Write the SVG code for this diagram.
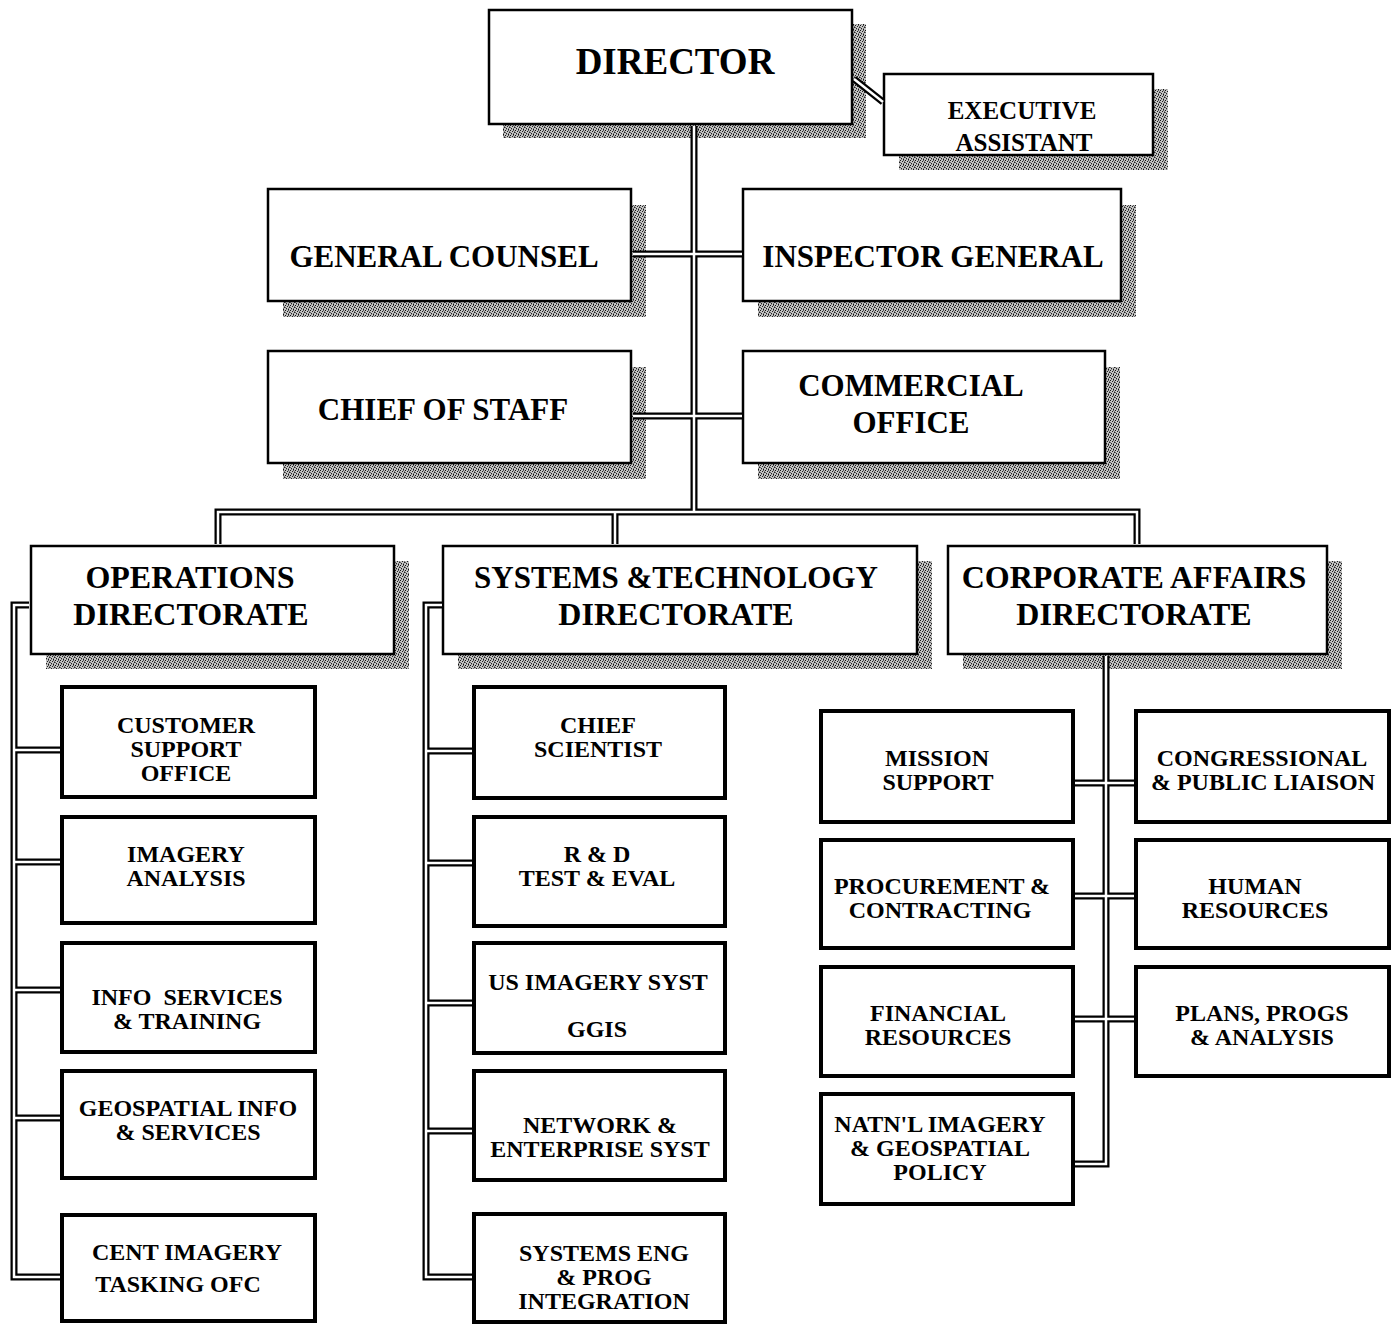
<svg xmlns="http://www.w3.org/2000/svg" width="1397" height="1326" viewBox="0 0 1397 1326">
<style>
.sh{fill:url(#stip)}
.big{fill:#fff;stroke:#000;stroke-width:2.5}
.sm{fill:#fff;stroke:#000;stroke-width:4}
text{font-family:"Liberation Serif","Times New Roman",serif;font-weight:bold;fill:#000;text-anchor:middle}
.t36{font-size:37px}
.t31{font-size:31px}
.t32{font-size:32px}
.t25{font-size:25px}
.t24{font-size:24px}
.co{fill:none;stroke:#000;stroke-width:7;stroke-linejoin:miter}
.ci{fill:none;stroke:#fff;stroke-width:2.5;stroke-linejoin:miter}
</style>
<defs>
<pattern id="stip" width="5" height="5" patternUnits="userSpaceOnUse">
<rect width="5" height="5" fill="#c4c4c4"/>
<rect x="0" y="0" width="1" height="1" fill="#111"/>
<rect x="3" y="0" width="1" height="1" fill="#555"/>
<rect x="2" y="1" width="1" height="1" fill="#222"/>
<rect x="4" y="1" width="1" height="1" fill="#777"/>
<rect x="0" y="2" width="1" height="1" fill="#666"/>
<rect x="4" y="2" width="1" height="1" fill="#222"/>
<rect x="1" y="3" width="1" height="1" fill="#222"/>
<rect x="3" y="3" width="1" height="1" fill="#777"/>
<rect x="3" y="4" width="1" height="1" fill="#111"/>
<rect x="1" y="4" width="1" height="1" fill="#888"/>
</pattern>
<path id="c-main" d="M694,126 V512"/>
<path id="c-bus" d="M218,544 V512 H1137 V544 M615,512 V544"/>
<path id="c-exec" d="M854,79 L883,102"/>
<path id="c-gc" d="M633,254 H742"/>
<path id="c-cos" d="M633,416 H742"/>
<path id="c-ops" d="M29,605 H14 V1277 H60 M14,750 H60 M14,862 H60 M14,990 H60 M14,1118 H60"/>
<path id="c-st" d="M442,605 H426 V1277 H472 M426,751 H472 M426,863 H472 M426,1003 H472 M426,1131 H472"/>
<path id="c-corp" d="M1106,656 V1164 H1075 M1075,783 H1134 M1075,896 H1134 M1075,1019 H1134"/>
</defs>
<rect width="1397" height="1326" fill="#fff"/>

<g id="director">
<rect class="sh" x="503" y="24" width="363" height="114"/>
<rect class="big" x="489" y="10" width="363" height="114"/>
<text class="t36" x="675" y="74">DIRECTOR</text>
</g>
<g id="executive-assistant">
<rect class="sh" x="899" y="89" width="269" height="81"/>
<rect class="big" x="884" y="74" width="269" height="81"/>
<text class="t25" x="1022" y="119">EXECUTIVE</text>
<text class="t25" x="1024" y="151">ASSISTANT</text>
</g>
<g id="general-counsel">
<rect class="sh" x="283" y="205" width="363" height="112"/>
<rect class="big" x="268" y="189" width="363" height="112"/>
<text class="t31" x="444" y="267">GENERAL COUNSEL</text>
</g>
<g id="inspector-general">
<rect class="sh" x="758" y="205" width="378" height="112"/>
<rect class="big" x="743" y="189" width="378" height="112"/>
<text class="t31" x="933" y="267">INSPECTOR GENERAL</text>
</g>
<g id="chief-of-staff">
<rect class="sh" x="283" y="367" width="363" height="112"/>
<rect class="big" x="268" y="351" width="363" height="112"/>
<text class="t31" x="443" y="420">CHIEF OF STAFF</text>
</g>
<g id="commercial-office">
<rect class="sh" x="758" y="367" width="362" height="112"/>
<rect class="big" x="743" y="351" width="362" height="112"/>
<text class="t31" x="911" y="396">COMMERCIAL</text>
<text class="t31" x="911" y="433">OFFICE</text>
</g>
<g id="operations-directorate">
<rect class="sh" x="46" y="561" width="363" height="108"/>
<rect class="big" x="31" y="546" width="363" height="108"/>
<text class="t32" x="190" y="588">OPERATIONS</text>
<text class="t32" x="191" y="625">DIRECTORATE</text>
</g>
<g id="systems-technology-directorate">
<rect class="sh" x="458" y="561" width="474" height="108"/>
<rect class="big" x="443" y="546" width="474" height="108"/>
<text class="t31" x="676" y="588">SYSTEMS &amp;TECHNOLOGY</text>
<text class="t32" x="676" y="625">DIRECTORATE</text>
</g>
<g id="corporate-affairs-directorate">
<rect class="sh" x="963" y="561" width="379" height="108"/>
<rect class="big" x="948" y="546" width="379" height="108"/>
<text class="t32" x="1134" y="588">CORPORATE AFFAIRS</text>
<text class="t32" x="1134" y="625">DIRECTORATE</text>
</g>

<g id="customer-support-office">
<rect class="sm" x="62" y="687" width="253" height="110"/>
<text class="t24" x="186" y="733">CUSTOMER</text>
<text class="t24" x="186" y="757">SUPPORT</text>
<text class="t24" x="186" y="781">OFFICE</text>
</g>
<g id="imagery-analysis">
<rect class="sm" x="62" y="817" width="253" height="106"/>
<text class="t24" x="186" y="862">IMAGERY</text>
<text class="t24" x="186" y="886">ANALYSIS</text>
</g>
<g id="info-services-training">
<rect class="sm" x="62" y="943" width="253" height="109"/>
<text class="t24" x="187" y="1005" xml:space="preserve">INFO  SERVICES</text>
<text class="t24" x="187" y="1029">&amp; TRAINING</text>
</g>
<g id="geospatial-info-services">
<rect class="sm" x="62" y="1071" width="253" height="107"/>
<text class="t24" x="188" y="1116">GEOSPATIAL INFO</text>
<text class="t24" x="188" y="1140">&amp; SERVICES</text>
</g>
<g id="cent-imagery-tasking-ofc">
<rect class="sm" x="62" y="1215" width="253" height="106"/>
<text class="t24" x="187" y="1260">CENT IMAGERY</text>
<text class="t24" x="178" y="1292">TASKING OFC</text>
</g>

<g id="chief-scientist">
<rect class="sm" x="474" y="687" width="251" height="111"/>
<text class="t24" x="598" y="733">CHIEF</text>
<text class="t24" x="598" y="757">SCIENTIST</text>
</g>
<g id="rd-test-eval">
<rect class="sm" x="474" y="817" width="251" height="109"/>
<text class="t24" x="597" y="862">R &amp; D</text>
<text class="t24" x="597" y="886">TEST &amp; EVAL</text>
</g>
<g id="us-imagery-syst-ggis">
<rect class="sm" x="474" y="943" width="251" height="110"/>
<text class="t24" x="598" y="990">US IMAGERY SYST</text>
<text class="t24" x="597" y="1037">GGIS</text>
</g>
<g id="network-enterprise-syst">
<rect class="sm" x="474" y="1071" width="251" height="109"/>
<text class="t24" x="600" y="1133">NETWORK &amp;</text>
<text class="t24" x="600" y="1157">ENTERPRISE SYST</text>
</g>
<g id="systems-eng-prog-integration">
<rect class="sm" x="474" y="1214" width="251" height="108"/>
<text class="t24" x="604" y="1261">SYSTEMS ENG</text>
<text class="t24" x="604" y="1285">&amp; PROG</text>
<text class="t24" x="604" y="1309">INTEGRATION</text>
</g>

<g id="mission-support">
<rect class="sm" x="821" y="711" width="252" height="111"/>
<text class="t24" x="937" y="766">MISSION</text>
<text class="t24" x="938" y="790">SUPPORT</text>
</g>
<g id="procurement-contracting">
<rect class="sm" x="821" y="840" width="252" height="108"/>
<text class="t24" x="942" y="894">PROCUREMENT &amp;</text>
<text class="t24" x="940" y="918">CONTRACTING</text>
</g>
<g id="financial-resources">
<rect class="sm" x="821" y="967" width="252" height="109"/>
<text class="t24" x="938" y="1021">FINANCIAL</text>
<text class="t24" x="938" y="1045">RESOURCES</text>
</g>
<g id="natnl-imagery-geospatial-policy">
<rect class="sm" x="821" y="1094" width="252" height="110"/>
<text class="t24" x="940" y="1132">NATN'L IMAGERY</text>
<text class="t24" x="940" y="1156">&amp; GEOSPATIAL</text>
<text class="t24" x="940" y="1180">POLICY</text>
</g>
<g id="congressional-public-liaison">
<rect class="sm" x="1136" y="711" width="253" height="111"/>
<text class="t24" x="1262" y="766">CONGRESSIONAL</text>
<text class="t24" x="1263" y="790">&amp; PUBLIC LIAISON</text>
</g>
<g id="human-resources">
<rect class="sm" x="1136" y="840" width="253" height="108"/>
<text class="t24" x="1255" y="894">HUMAN</text>
<text class="t24" x="1255" y="918">RESOURCES</text>
</g>
<g id="plans-progs-analysis">
<rect class="sm" x="1136" y="967" width="253" height="109"/>
<text class="t24" x="1262" y="1021">PLANS, PROGS</text>
<text class="t24" x="1262" y="1045">&amp; ANALYSIS</text>
</g>

<g id="connectors">
<g class="co">
<use href="#c-main"/><use href="#c-bus"/><use href="#c-exec"/><use href="#c-gc"/><use href="#c-cos"/><use href="#c-ops"/><use href="#c-st"/><use href="#c-corp"/>
</g>
<g class="ci">
<use href="#c-main"/><use href="#c-bus"/><use href="#c-exec"/><use href="#c-gc"/><use href="#c-cos"/><use href="#c-ops"/><use href="#c-st"/><use href="#c-corp"/>
</g>
</g>
</svg>
